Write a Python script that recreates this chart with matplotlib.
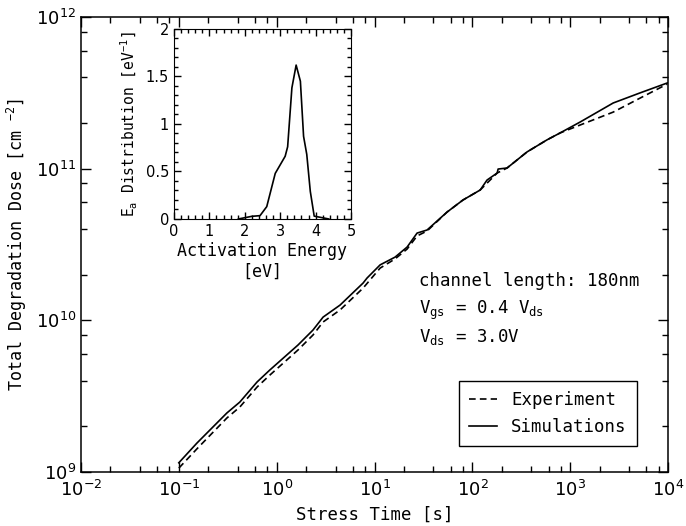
import numpy as np
import matplotlib
matplotlib.use("Agg")
import matplotlib.pyplot as plt
from matplotlib.ticker import MultipleLocator, NullFormatter

# main plot data
t_sim = [0.1, 0.153, 0.31, 0.42, 0.63, 0.85, 1.65, 2.35, 2.98, 4.44, 7.63, 8.38,
         11.4, 16.2, 21.5, 27.2, 34.4, 55, 80, 120, 141, 179, 183, 226, 362, 580,
         787, 1261, 2744, 5170, 9770]
dose_sim = [1.15e9, 1.55e9, 2.45e9, 2.89e9, 3.92e9, 4.70e9, 6.87e9, 8.63e9, 1.05e10,
            1.26e10, 1.76e10, 1.90e10, 2.32e10, 2.61e10, 3.04e10, 3.76e10, 3.94e10,
            5.17e10, 6.21e10, 7.23e10, 8.41e10, 9.36e10, 9.94e10, 1.01e11, 1.29e11,
            1.55e11, 1.72e11, 2.03e11, 2.71e11, 3.16e11, 3.67e11]
t_exp = [0.1, 0.153, 0.31, 0.42, 0.63, 0.85, 1.65, 2.35, 2.98, 4.44, 7.63, 11.4,
         16.2, 21.5, 27.2, 34.4, 55, 80, 120, 179, 226, 362, 580, 787, 1261, 2744,
         5170, 9770]
dose_exp = [1.06e9, 1.42e9, 2.27e9, 2.68e9, 3.63e9, 4.35e9, 6.37e9, 8.0e9, 9.75e9,
            1.17e10, 1.63e10, 2.21e10, 2.54e10, 2.95e10, 3.60e10, 3.88e10, 5.17e10,
            6.21e10, 7.23e10, 9.36e10, 1.01e11, 1.29e11, 1.55e11, 1.72e11, 1.94e11,
            2.36e11, 2.92e11, 3.61e11]

# inset: activation energy distribution
ea = [1.82, 2.2, 2.43, 2.62, 2.86, 3.14, 3.21, 3.33, 3.45, 3.57, 3.66, 3.75, 3.85, 3.96, 4.37]
ea_dist = [0, 0.028, 0.035, 0.13, 0.48, 0.66, 0.76, 1.38, 1.62, 1.45, 0.87, 0.68, 0.29, 0.03, 0]

x_exps = [-2, -1, 0, 1, 2, 3, 4]
y_exps = [9, 10, 11, 12]

mono = "DejaVu Sans Mono"
plt.rcParams["mathtext.fontset"] = "dejavusans"

fig = plt.figure(figsize=(6.86, 5.26), dpi=100)
ax = fig.add_axes([0.118, 0.1027, 0.856, 0.865])

ax.plot(t_exp, dose_exp, "k--", lw=1.2, dashes=(4, 2.5), label="Experiment")
ax.plot(t_sim, dose_sim, "k-", lw=1.2, label="Simulations")
ax.set_xscale("log")
ax.set_yscale("log")
ax.set_xlim(1e-2, 1e4)
ax.set_ylim(1e9, 1e12)
ax.set_xticks([10.0**e for e in x_exps])
ax.set_xticklabels([r"$10^{%d}$" % e for e in x_exps])
ax.set_yticks([10.0**e for e in y_exps])
ax.set_yticklabels([r"$10^{%d}$" % e for e in y_exps])
ax.set_xticks([m * 10.0**e for e in x_exps[:-1] for m in (2, 4, 6, 8)], minor=True)
ax.set_yticks([m * 10.0**e for e in y_exps[:-1] for m in (2, 4, 6, 8)], minor=True)
ax.xaxis.set_minor_formatter(NullFormatter())
ax.yaxis.set_minor_formatter(NullFormatter())
ax.tick_params(which="both", direction="in", top=True, right=True, labelsize=13)
ax.tick_params(which="major", length=7, width=1)
ax.tick_params(which="minor", length=4.5, width=1)
ax.tick_params(axis="x", pad=6)
for s in ax.spines.values():
    s.set_linewidth(1.1)

ax.set_xlabel("Stress Time [s]", family=mono, fontsize=12.5, labelpad=4)
ax.set_ylabel(r"Total Degradation Dose [cm $^{\mathtt{-2}}$]", family=mono, fontsize=12, labelpad=5)

leg = ax.legend(loc="lower right", bbox_to_anchor=(0.947, 0.057), borderaxespad=0,
                prop={"family": mono, "size": 12.5}, fancybox=False, edgecolor="black",
                handlelength=1.6, borderpad=0.6, labelspacing=0.5, framealpha=1)
leg.get_frame().set_linewidth(1.0)

ax.text(0.576, 0.42, "channel length: 180nm", transform=ax.transAxes,
        family=mono, fontsize=12.5, va="center")
ax.text(0.576, 0.355, r"$\mathtt{V_{gs}}$ = 0.4 $\mathtt{V_{ds}}$", transform=ax.transAxes,
        family=mono, fontsize=12.5, va="center")
ax.text(0.576, 0.297, r"$\mathtt{V_{ds}}$ = 3.0V", transform=ax.transAxes,
        family=mono, fontsize=12.5, va="center")

# inset
ins = fig.add_axes([0.2536, 0.5837, 0.2581, 0.3612])
ins.plot(ea, ea_dist, "k-", lw=1.2)
ins.set_xlim(0, 5)
ins.set_ylim(0, 2)
ins.xaxis.set_major_locator(MultipleLocator(1))
ins.xaxis.set_minor_locator(MultipleLocator(0.2))
ins.yaxis.set_minor_locator(MultipleLocator(0.1))
ins.set_yticks([0, 0.5, 1, 1.5, 2])
ins.set_yticklabels(["0", "0.5", "1", "1.5", "2"])
ins.tick_params(which="both", direction="in", top=True, right=True, labelsize=10.5)
ins.tick_params(which="major", length=5, width=1)
ins.tick_params(which="minor", length=3, width=1)
ins.set_xlabel("Activation Energy\n[eV]", family=mono, fontsize=12, labelpad=2)
ins.set_ylabel(r"E$_{\mathtt{a}}$ Distribution [eV$^{\mathtt{-1}}$]", family=mono, fontsize=10.5, labelpad=4)

fig.savefig("out.png", dpi=100)
